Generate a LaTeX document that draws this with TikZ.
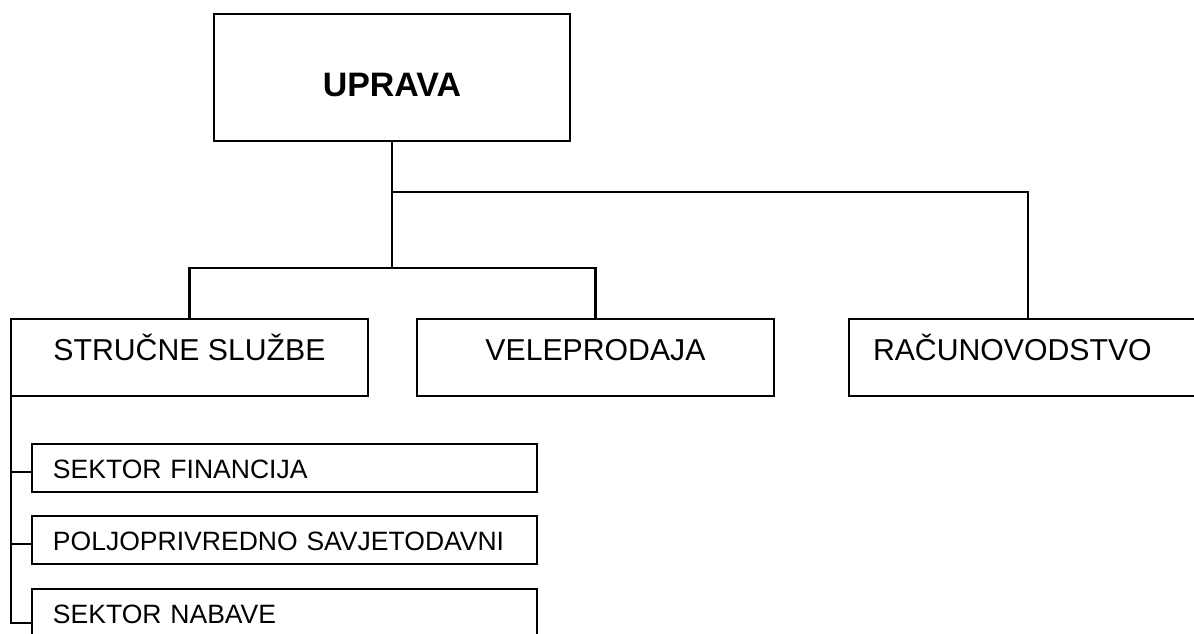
\documentclass[tikz,border=0pt]{standalone}
\usepackage{fontspec}
\setmainfont{Liberation Sans}
\tikzset{
  unit/.style={draw, rectangle, line width=1.2pt, inner sep=0pt, outer sep=0pt, anchor=north west},
  topbox/.style={unit, minimum width=7.12cm, minimum height=2.54cm,
    font=\fontsize{19.3}{22}\selectfont\bfseries, text height=0.78cm, text depth=0cm},
  deptbox/.style={unit, minimum width=7.14cm, minimum height=1.54cm,
    font=\fontsize{17.2}{20}\selectfont, text height=0.45cm, text depth=0.35cm},
  sectorbox/.style={unit, text width=9.26cm, align=left, inner xsep=0.42cm,
    minimum height=0.96cm, font=\fontsize{15.1}{18}\selectfont,
    text height=0.4cm, text depth=0cm},
  link/.style={line width=1.2pt}
}
\begin{document}
\begin{tikzpicture}[x=0.02cm, y=-0.02cm]
  \useasboundingbox (0,0) rectangle (1194,633);
  \clip (0,0) rectangle (1194,633);

  % upper level
  \node[topbox] (upr) at (214,14) {UPRAVA};

  % departments
  \node[deptbox] (struc) at (11,319) {STRUČNE SLUŽBE};
  \node[deptbox] (vele) at (417,319) {VELEPRODAJA};
  \node[deptbox, text width=7.2cm, align=left, inner xsep=0.48cm] (racun) at (849,319) {RAČUNOVODSTVO};

  % sectors
  \node[sectorbox] (sf) at (32,444) {SEKTOR FINANCIJA};
  \node[sectorbox] (ps) at (32,516) {POLJOPRIVREDNO SAVJETODAVNI};
  \node[sectorbox] (sn) at (32,589) {SEKTOR NABAVE};

  % connections
  \coordinate (fork) at (upr.south |- 0,192);
  \coordinate (split) at (upr.south |- 0,268);
  \draw[link] (upr.south) -- (split);
  \draw[link] (struc.north) |- (split) -| (vele.north);
  \draw[link] (fork) -| ([xshift=3.58cm]racun.north west);

  \draw[link] (struc.south west) |- ([yshift=-0.2cm]sn.west);
  \foreach \s in {sf,ps}
    \draw[link] ([yshift=-0.08cm]\s.west) -- ([yshift=-0.08cm]\s.west -| struc.west);
\end{tikzpicture}
\end{document}
